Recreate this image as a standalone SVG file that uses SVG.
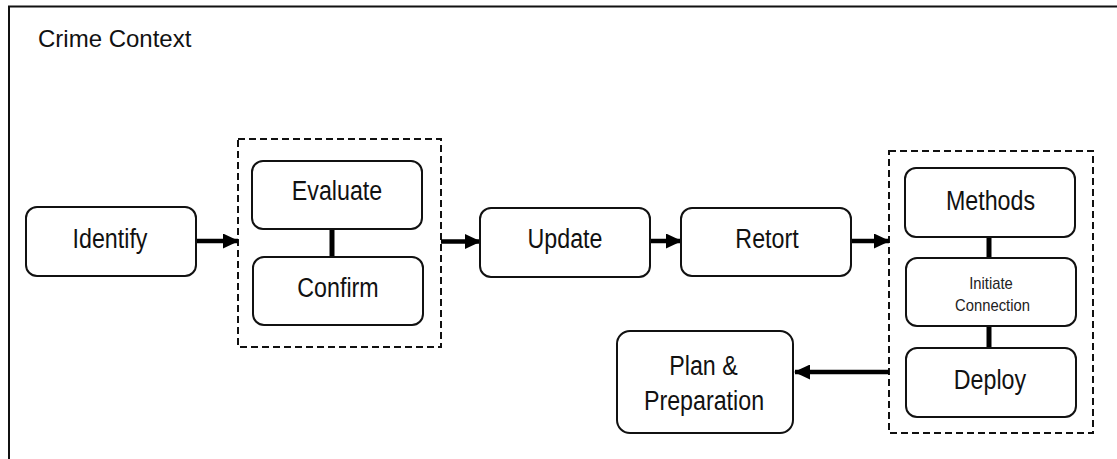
<svg xmlns="http://www.w3.org/2000/svg" width="1117" height="459" viewBox="0 0 1117 459">
  <style>
    .node { fill: #ffffff; stroke: #111111; stroke-width: 2; }
    .group { fill: none; stroke: #111111; stroke-width: 2; stroke-dasharray: 7 4; }
    .frame { fill: none; stroke: #111111; stroke-width: 2; }
    .label { font-family: "Liberation Sans", Arial, sans-serif; font-size: 28px; fill: #111111; text-anchor: middle; }
    .small { font-family: "Liberation Sans", Arial, sans-serif; font-size: 17px; fill: #222222; text-anchor: middle; }
    .title { font-family: "Liberation Sans", Arial, sans-serif; font-size: 24px; fill: #111111; }
    .flow { fill: none; stroke: #000000; stroke-width: 4.5; }
    .link { fill: none; stroke: #000000; stroke-width: 5; }
  </style>
  <defs>
    <marker id="head" markerUnits="userSpaceOnUse" markerWidth="16" markerHeight="15" refX="15" refY="7.5" orient="auto">
      <path d="M0,0 L16,7.5 L0,15 Z" fill="#000000"/>
    </marker>
  </defs>

  <rect width="1117" height="459" fill="#ffffff"/>

  <!-- context frame: top and left rules only -->
  <g id="context">
    <path class="frame" d="M9,459 L9,6.5 L1117,6.5"/>
    <text class="title" x="38" y="47">Crime Context</text>
  </g>

  <!-- dashed grouping boxes -->
  <g id="group-verify">
    <rect class="group" x="238" y="139" width="203" height="208"/>
  </g>
  <g id="group-action">
    <rect class="group" x="889" y="151" width="204" height="282"/>
  </g>

  <!-- connectors -->
  <g id="connectors">
    <line class="flow" x1="196" y1="241" x2="238" y2="241" marker-end="url(#head)"/>
    <line class="flow" x1="441" y1="241.5" x2="480" y2="241.5" marker-end="url(#head)"/>
    <line class="flow" x1="644" y1="241" x2="681" y2="241" marker-end="url(#head)"/>
    <line class="flow" x1="851" y1="241" x2="889" y2="241" marker-end="url(#head)"/>
    <line class="flow" x1="889" y1="372" x2="795" y2="372" marker-end="url(#head)"/>
    <line class="link" x1="332" y1="229" x2="332" y2="257"/>
    <line class="link" x1="989" y1="237" x2="989" y2="258"/>
    <line class="link" x1="989" y1="326" x2="989" y2="348"/>
  </g>

  <g id="identify">
    <rect class="node" x="26" y="207" width="170" height="69" rx="11"/>
    <text class="label" transform="translate(110 248) scale(0.83 1)">Identify</text>
  </g>

  <g id="evaluate">
    <rect class="node" x="252" y="161" width="170" height="68" rx="11"/>
    <text class="label" transform="translate(337 200) scale(0.83 1)">Evaluate</text>
  </g>

  <g id="confirm">
    <rect class="node" x="253" y="257" width="170" height="68" rx="11"/>
    <text class="label" transform="translate(338 297) scale(0.83 1)">Confirm</text>
  </g>

  <g id="update">
    <rect class="node" x="480" y="208" width="170" height="69" rx="11"/>
    <text class="label" transform="translate(565 247.5) scale(0.83 1)">Update</text>
  </g>

  <g id="retort">
    <rect class="node" x="681" y="208" width="170" height="68" rx="11"/>
    <text class="label" transform="translate(767 247.5) scale(0.83 1)">Retort</text>
  </g>

  <g id="methods">
    <rect class="node" x="905" y="168" width="170" height="69" rx="11"/>
    <text class="label" transform="translate(990.5 209.5) scale(0.83 1)">Methods</text>
  </g>

  <g id="initiate-connection">
    <rect class="node" x="906" y="258" width="170" height="68" rx="11"/>
    <text class="small" transform="translate(991 288.5) scale(0.87 1)">Initiate</text>
    <text class="small" transform="translate(992.5 311) scale(0.87 1)">Connection</text>
  </g>

  <g id="deploy">
    <rect class="node" x="906" y="348" width="170" height="69" rx="11"/>
    <text class="label" transform="translate(990 388.5) scale(0.83 1)">Deploy</text>
  </g>

  <g id="plan-preparation">
    <rect class="node" x="617" y="331" width="176" height="102" rx="13"/>
    <text class="label" transform="translate(703.5 375) scale(0.83 1)">Plan &amp;</text>
    <text class="label" transform="translate(704 409.5) scale(0.83 1)">Preparation</text>
  </g>
</svg>
